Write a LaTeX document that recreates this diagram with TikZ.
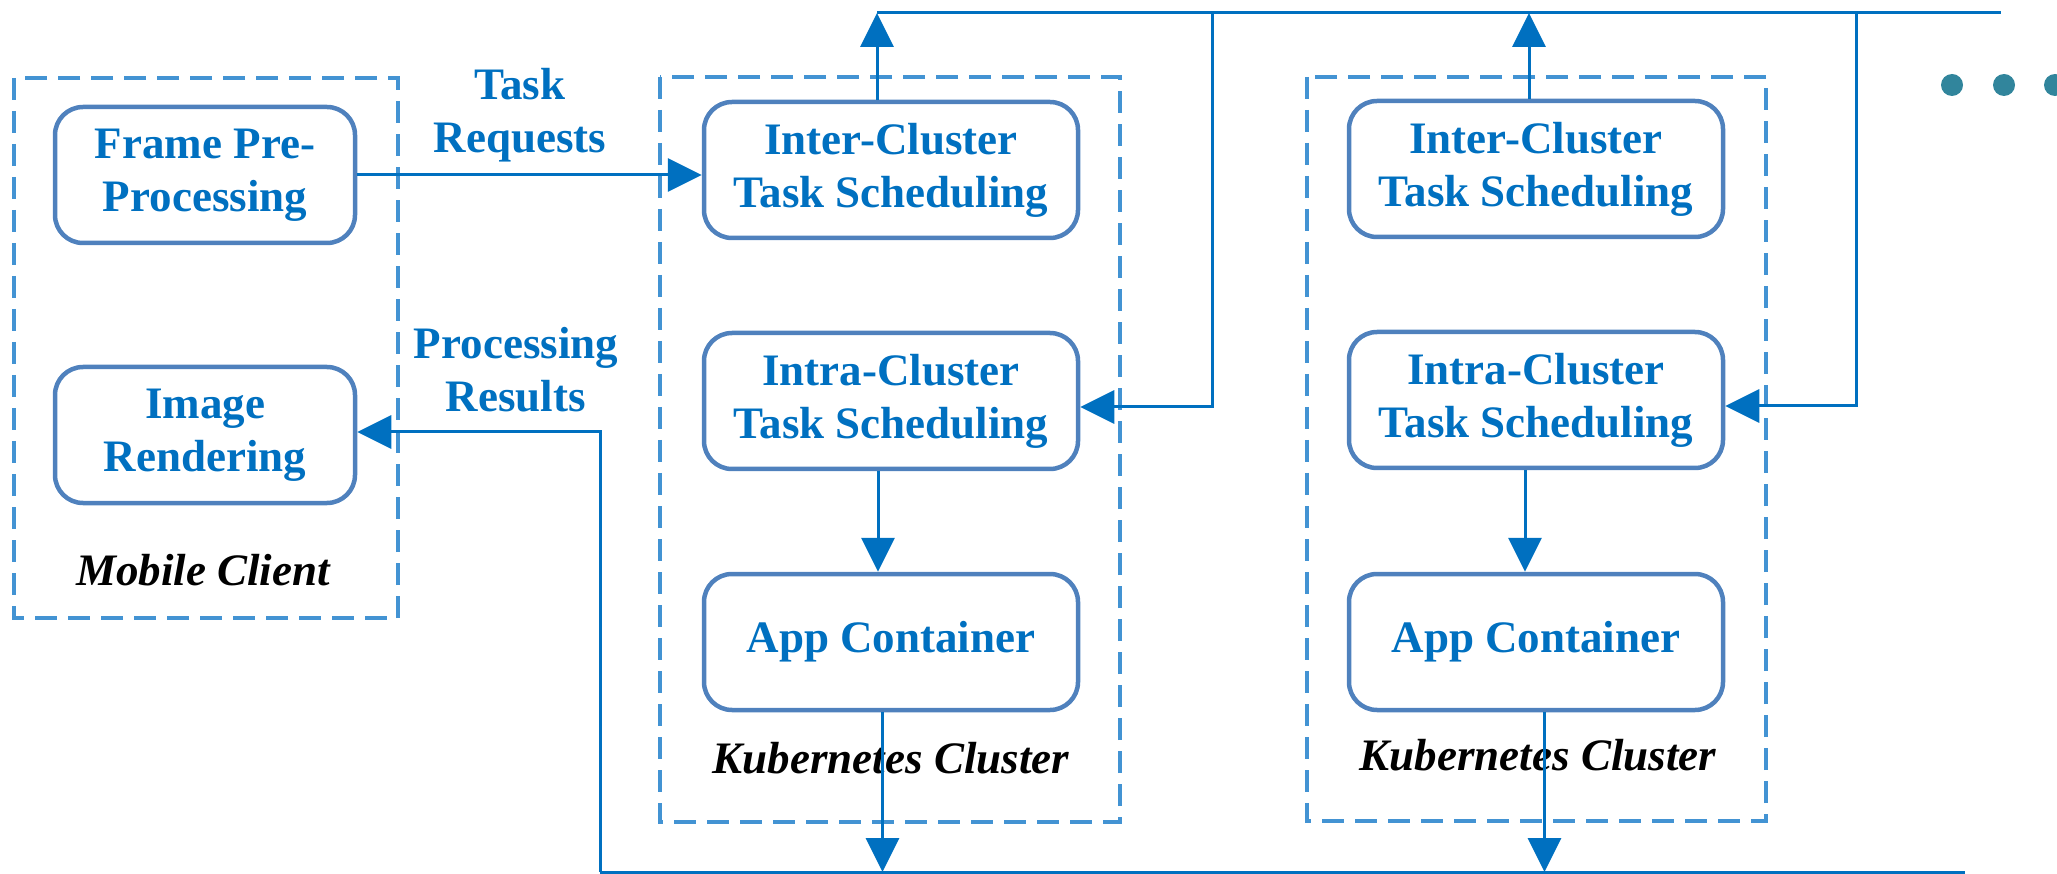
\documentclass[tikz,border=0pt]{standalone}
\usepackage{fontspec}
\setmainfont{Liberation Serif}
\usetikzlibrary{arrows.meta}
\definecolor{tblue}{HTML}{0070C0}
\definecolor{bborder}{HTML}{4F81BD}
\definecolor{dblue}{HTML}{4393D3}
\definecolor{dotc}{HTML}{31859C}
\begin{document}
\begin{tikzpicture}[x=1pt,y=-1pt,
  box/.style={draw=bborder, line width=4.5pt, rounded corners=28pt, minimum width=374pt, minimum height=136pt, inner sep=0pt, align=center, text=tblue, font=\fontsize{45}{53}\selectfont\bfseries},
  cbox/.style={draw=dblue, line width=3.5pt, dash pattern=on 22pt off 11pt},
  lbl/.style={text=tblue, align=center, font=\fontsize{45}{53}\selectfont\bfseries, inner sep=0pt},
  clbl/.style={text=black, font=\fontsize{45}{53}\selectfont\bfseries\itshape, inner sep=0pt, anchor=base},
  conn/.style={draw=tblue, line width=3pt},
  arr/.style={conn, -{Triangle[length=34pt,width=33pt]}},
]
\useasboundingbox (0,0) rectangle (2057,874);

% container boxes
\draw[cbox] (14,78) rectangle (398,618);
\draw[cbox] (660,77) rectangle (1120,822);
\draw[cbox] (1307,77) rectangle (1766,821);

% nodes
\node[box, minimum width=300pt] (frame) at (205,175) {Frame Pre-\\Processing};
\node[box, minimum width=300pt] (image) at (205,435) {Image\\Rendering};
\node[box] (inter1) at (891,170) {Inter-Cluster\\Task Scheduling};
\node[box] (intra1) at (891,401) {Intra-Cluster\\Task Scheduling};
\node[box] (app1) at (891,642) {App Container};
\node[box] (inter2) at (1536,169) {Inter-Cluster\\Task Scheduling};
\node[box] (intra2) at (1536,400) {Intra-Cluster\\Task Scheduling};
\node[box] (app2) at (1536,642) {App Container};

% labels
\node[lbl] (taskreq) at (520,115) {Task\\Requests};
\node[lbl] (procres) at (516,370) {Processing\\Results};
\node[clbl] (mc) at (203,585) {Mobile Client};
\node[clbl] (kc1) at (891,773) {Kubernetes Cluster};
\node[clbl] (kc2) at (1538,770) {Kubernetes Cluster};

% coordinates
\coordinate (topL) at (877,13);
\coordinate (topR) at (2001,13);
\coordinate (t2) at (1529,13);
\coordinate (v1) at (1212,13);
\coordinate (v2) at (1856,13);
\coordinate (botL) at (600,872);
\coordinate (botR) at (1965,872);
\coordinate (b1) at (882.5,872);
\coordinate (b2) at (1544.5,872);

% bus lines
\draw[conn] (topL) -- (topR);
\draw[conn] (botL) -- (botR);

% connectors
\draw[arr] (frame.east) -- (frame.east -| inter1.west);
\draw[arr] (inter1.north -| topL) -- (topL);
\draw[arr] (inter2.north -| t2) -- (t2);
\draw[arr] (v1) |- ([yshift=-6pt]intra1.east);
\draw[arr] (v2) |- ([yshift=-6pt]intra2.east);
\draw[arr] ([xshift=-13pt]intra1.south) -- ([xshift=-13pt]app1.north);
\draw[arr] ([xshift=-11pt]intra2.south) -- ([xshift=-11pt]app2.north);
\draw[arr] ([xshift=-8.5pt]app1.south) -- (b1);
\draw[arr] ([xshift=8.5pt]app2.south) -- (b2);
\draw[arr] (botL) |- ([yshift=3pt]image.east);

% ellipsis dots
\fill[dotc] (1952,85) circle (11pt);
\fill[dotc] (2004,85) circle (11pt);
\fill[dotc] (2055,85) circle (11pt);
\end{tikzpicture}
\end{document}
